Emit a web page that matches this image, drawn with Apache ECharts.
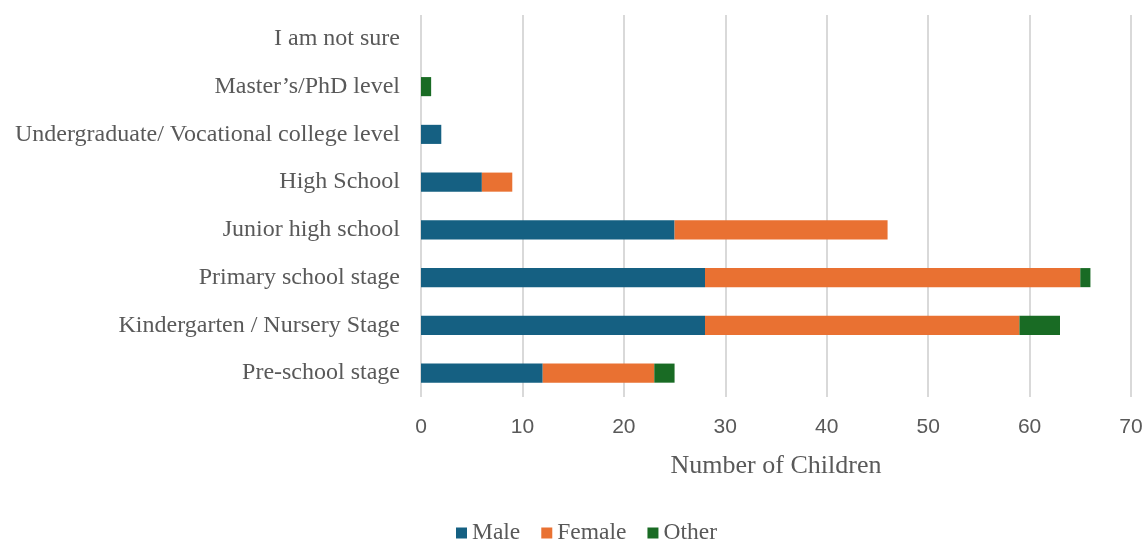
<!DOCTYPE html>
<html>
<head>
<meta charset="utf-8">
<script src="https://cdn.jsdelivr.net/npm/echarts@6/dist/echarts.min.js"></script>
<style>
  html, body { margin: 0; padding: 0; background: #ffffff; }
  #chart { width: 1146px; height: 541px; }
</style>
</head>
<body>
<div id="chart"></div>
<script>
// Education stage categories, bottom to top
const categories = [
  'Pre-school stage',
  'Kindergarten / Nursery Stage',
  'Primary school stage',
  'Junior high school',
  'High School',
  'Undergraduate/ Vocational college level',
  'Master\u2019s/PhD level',
  'I am not sure'
];
const maleValues   = [12, 28, 28, 25, 6, 2, 0, 0];
const femaleValues = [11, 31, 37, 21, 3, 0, 0, 0];
const otherValues  = [2, 4, 1, 0, 0, 0, 1, 0];
const xTicks = [0, 10, 20, 30, 40, 50, 60, 70];

const serif = '"Liberation Serif", "Times New Roman", serif';
const sans = '"Liberation Sans", Arial, sans-serif';

const chart = echarts.init(document.getElementById('chart'));

function barSeries(name, data, color) {
  return {
    name: name,
    type: 'bar',
    stack: 'total',
    data: data,
    barWidth: '40%',
    itemStyle: { color: color },
    emphasis: { disabled: true }
  };
}

chart.setOption({
  animation: false,
  grid: { left: 421, right: 15, top: 15, bottom: 144, containLabel: false },
  legend: {
    top: 516,
    left: 451,
    itemWidth: 11,
    itemHeight: 11,
    itemGap: 21,
    icon: 'rect',
    textStyle: { fontFamily: serif, fontSize: 23.5, color: '#595959' },
    data: ['Male', 'Female', 'Other']
  },
  xAxis: {
    type: 'value',
    min: xTicks[0],
    max: xTicks[xTicks.length - 1],
    interval: 10,
    name: 'Number of Children',
    nameLocation: 'middle',
    nameGap: 56,
    nameTextStyle: { fontFamily: serif, fontSize: 26, color: '#595959' },
    axisLine: { show: false },
    axisTick: { show: false },
    axisLabel: { fontFamily: sans, fontSize: 21, color: '#595959', margin: 20 },
    splitLine: { show: true, lineStyle: { color: '#d9d9d9', width: 2 } }
  },
  yAxis: {
    type: 'category',
    data: categories,
    axisLine: { show: false },
    axisTick: { show: false },
    axisLabel: { fontFamily: serif, fontSize: 24, color: '#595959', margin: 21 }
  },
  series: [
    barSeries('Male', maleValues, '#156082'),
    barSeries('Female', femaleValues, '#E97132'),
    barSeries('Other', otherValues, '#196B24')
  ]
});
</script>
</body>
</html>
